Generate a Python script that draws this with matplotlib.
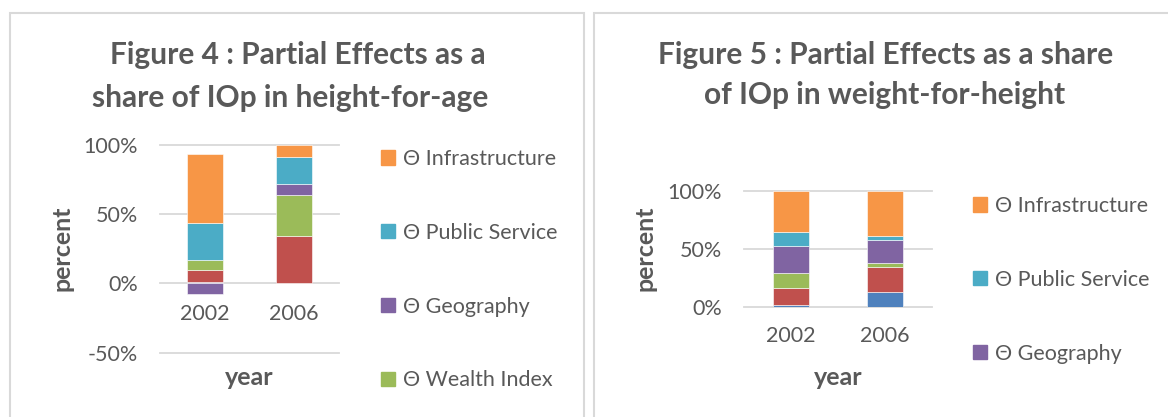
import numpy as np
import matplotlib.pyplot as plt
from matplotlib.patches import Rectangle, Patch
from matplotlib.ticker import FuncFormatter

plt.rcParams['font.family'] = ['Lato', 'DejaVu Sans']

# %%
years = ["2002", "2006"]
colors = ["#4F81BD", "#C0504D", "#9BBB59", "#8064A2", "#4BACC6", "#F79646"]

# stacked from the bottom: blue, red, wealth index, geography, public service, infrastructure (percent)
fig4_blue = [1.2, 0.0]
fig4_red = [8.2, 34.1]
fig4_wealth = [7.2, 29.6]
fig4_geography = [-7.5, 7.9]
fig4_public = [27.2, 19.3]
fig4_infra = [49.2, 9.1]

fig5_blue = [1.7, 12.9]
fig5_red = [14.7, 21.6]
fig5_wealth = [12.9, 3.4]
fig5_geography = [23.3, 19.6]
fig5_public = [12.1, 3.7]
fig5_infra = [35.3, 38.8]

legend4 = ["Θ Infrastructure", "Θ Public Service", "Θ Geography", "Θ Wealth Index"]
legend5 = ["Θ Infrastructure", "Θ Public Service", "Θ Geography"]

grey = "#595959"
W, H = 1168, 417


def stacked(ax, series, width):
    x = np.arange(len(years))
    pos = np.zeros(len(years))
    neg = np.zeros(len(years))
    for vals, c in zip(series, colors):
        v = np.array(vals, dtype=float)
        bottom = np.where(v >= 0, pos, neg)
        ax.bar(x, v, width, bottom=bottom, color=c, edgecolor="white", linewidth=0.4, zorder=3)
        pos += np.where(v >= 0, v, 0)
        neg += np.where(v < 0, v, 0)
    ax.set_xticks(x, years)
    ax.set_xlim(-0.5, len(years) - 0.5)


def style(ax, ylim, step, xpad):
    ax.set_ylim(*ylim)
    ax.set_yticks(np.arange(ylim[0], ylim[1] + 1, step))
    ax.yaxis.set_major_formatter(FuncFormatter(lambda v, p: f"{v:.0f}%"))
    ax.grid(axis="y", color="#d9d9d9", linewidth=1.3, clip_on=False, zorder=0)
    for s in ax.spines.values():
        s.set_visible(False)
    ax.spines["bottom"].set_position(("data", 0))
    ax.tick_params(axis="y", length=0, pad=16, labelsize=15.5, labelcolor=grey)
    ax.tick_params(axis="x", length=0, pad=xpad, labelsize=15.5, labelcolor=grey)
    ax.set_facecolor("none")


fig = plt.figure(figsize=(W / 100, H / 100), dpi=100)

# panel frames
for x0, x1 in [(10, 584), (594, 1200)]:
    fig.patches.append(Rectangle((x0 / W, -0.1), (x1 - x0) / W, 1.1 - 13 / H, transform=fig.transFigure,
                                 fill=False, edgecolor="#d9d9d9", linewidth=1.5))

lab = dict(fontsize=18, fontweight="bold", color=grey)

# Figure 4
ax4 = fig.add_axes([160 / W, 1 - 352.7 / H, 179 / W, 208 / H])
stacked(ax4, [fig4_blue, fig4_red, fig4_wealth, fig4_geography, fig4_public, fig4_infra], 0.4)
style(ax4, (-50, 100), 50, 15)
ax4.set_ylabel("percent", **lab)
ax4.yaxis.set_label_coords(-0.486, 0.503)
ax4.set_xlabel("year", **lab)
ax4.xaxis.set_label_coords(0.497, -0.062)

# Figure 5
ax5 = fig.add_axes([744 / W, 1 - 306.7 / H, 188 / W, 116 / H])
stacked(ax5, [fig5_blue, fig5_red, fig5_wealth, fig5_geography, fig5_public, fig5_infra], 0.39)
style(ax5, (0, 100), 50, 14)
ax5.set_ylabel("percent", **lab)
ax5.yaxis.set_label_coords(-0.463, 0.506)
ax5.set_xlabel("year", **lab)
ax5.xaxis.set_label_coords(0.5, -0.51)

# titles
tkw = dict(ha="center", va="center", fontsize=21.5, fontweight="bold", color=grey)
fig.text(298 / W, 1 - 55 / H, "Figure 4 : Partial Effects as a", **tkw)
fig.text(290 / W, 1 - 98 / H, "share of IOp in height-for-age", **tkw)
fig.text(886 / W, 1 - 55 / H, "Figure 5 : Partial Effects as a share", **tkw)
fig.text(885 / W, 1 - 95 / H, "of IOp in weight-for-height", **tkw)

# legends (only the entries that fit in the frame)
lkw = dict(loc="upper left", frameon=False, fontsize=15.5, labelcolor=grey, borderpad=0, borderaxespad=0,
           handlelength=0.65, handleheight=0.65, handletextpad=0.35, labelspacing=2.5)
fig.legend([Patch(color=c) for c in colors[::-1][:4]], legend4,
           bbox_to_anchor=(381 / W, 1 - 149 / H), **lkw)
fig.legend([Patch(color=c) for c in colors[::-1][:3]], legend5,
           bbox_to_anchor=(973 / W, 1 - 196 / H), **lkw)

fig.savefig("out.png", dpi=100)
